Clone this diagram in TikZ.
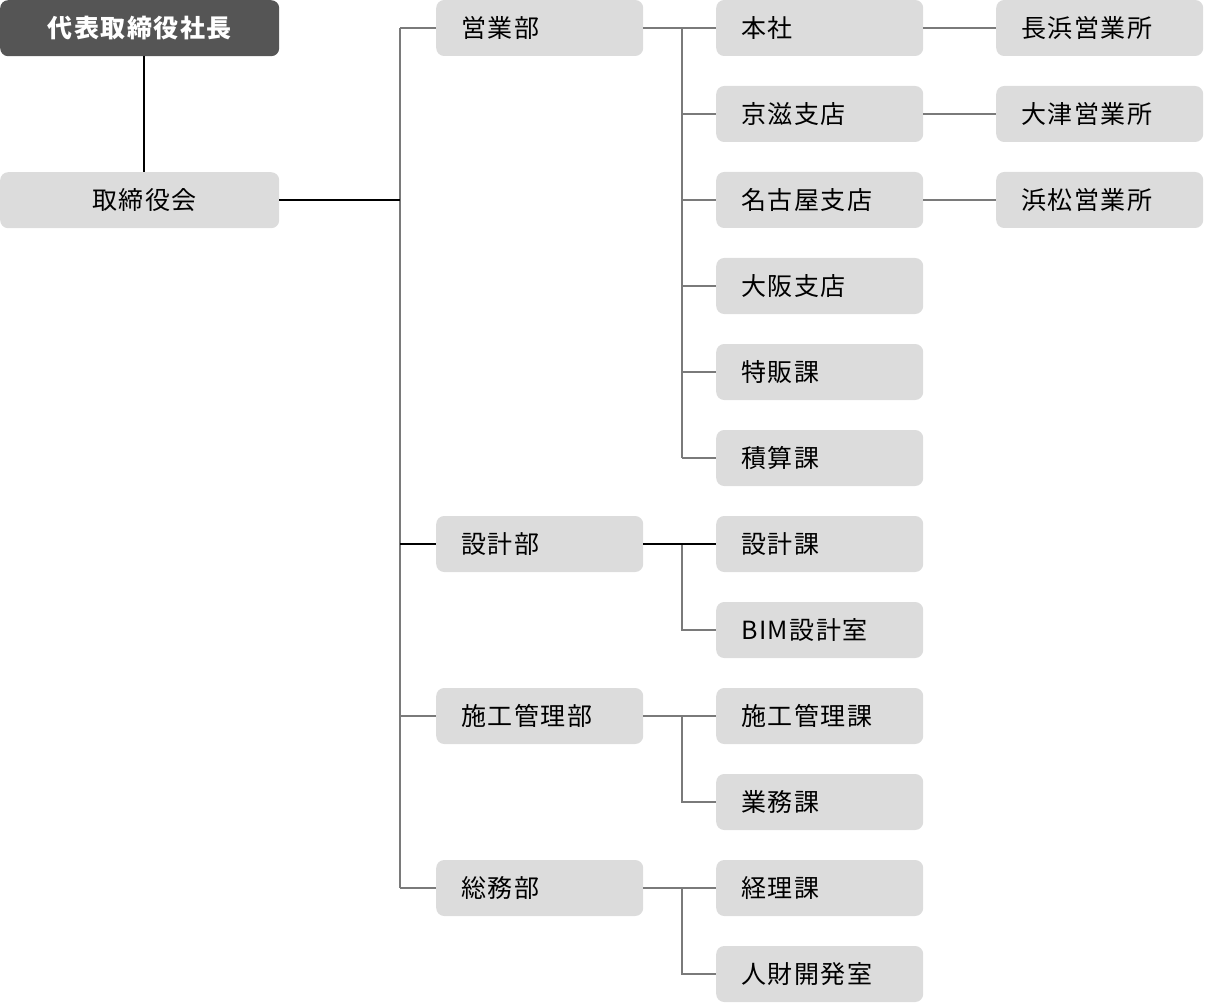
\documentclass[tikz,border=0pt]{standalone}
\usepackage{fontspec}
\setmainfont{Noto Sans CJK JP}[LetterSpace=6]
\begin{document}
\begin{tikzpicture}[x=1pt,y=-1pt,
  every node/.style={font=\fontsize{25}{30}\selectfont},
  boxbase/.style={rectangle, rounded corners=8pt, fill=boxgray, minimum height=56pt, inner ysep=0pt},
  unit/.style={boxbase, anchor=west, inner xsep=25pt, text width=157pt, align=left},
  topbox/.style={boxbase, anchor=north west, minimum width=279pt, inner xsep=0pt},
  blk/.style={draw=black, line width=2pt},
  gry/.style={draw=linegray, line width=2pt}]
\definecolor{boxgray}{HTML}{DCDCDC}
\definecolor{darkbox}{HTML}{555555}
\definecolor{linegray}{HTML}{7A7A7A}
\useasboundingbox (0,0) rectangle (1205,1003);
% top
\node[topbox, fill=darkbox, text=white, font=\fontsize{25}{30}\selectfont\bfseries] (ceo) at (0,0) {代表取締役社長};
\node[topbox] (board) at (0,172) {\hspace*{10pt}取締役会};
% departments
\node[unit] (d1) at (436,28) {営業部};
\node[unit] (d2) at (436,544) {設計部};
\node[unit] (d3) at (436,716) {施工管理部};
\node[unit] (d4) at (436,888) {総務部};
% sections
\node[unit] (s1) at (716,28) {本社};
\node[unit] (s2) at (716,114) {京滋支店};
\node[unit] (s3) at (716,200) {名古屋支店};
\node[unit] (s4) at (716,286) {大阪支店};
\node[unit] (s5) at (716,372) {特販課};
\node[unit] (s6) at (716,458) {積算課};
\node[unit] (s7) at (716,544) {設計課};
\node[unit] (s8) at (716,630) {BIM設計室};
\node[unit] (s9) at (716,716) {施工管理課};
\node[unit] (s10) at (716,802) {業務課};
\node[unit] (s11) at (716,888) {経理課};
\node[unit] (s12) at (716,974) {人財開発室};
% offices
\node[unit] (o1) at (996,28) {長浜営業所};
\node[unit] (o2) at (996,114) {大津営業所};
\node[unit] (o3) at (996,200) {浜松営業所};
% coordinates
\coordinate (cl) at (144,0);
\coordinate (tr) at (400,0);
\coordinate (br) at (682,0);
% trunk (gray)
\draw[gry] (d1.west -| tr) -- (d4.west -| tr);
\foreach \d in {d1,d3,d4} \draw[gry] (\d.west -| tr) -- (\d.west);
% branches
\draw[gry] (d1.east) -- (s1.west);
\draw[gry] (s1.west -| br) -- (s6.west -| br);
\foreach \s in {s2,s3,s4,s5,s6} \draw[gry] (\s.west -| br) -- (\s.west);
\draw[gry] (s7.west -| br) -- (s8.west -| br) -- (s8.west);
\draw[gry] (d3.east) -- (s9.west);
\draw[gry] (s9.west -| br) -- (s10.west -| br) -- (s10.west);
\draw[gry] (d4.east) -- (s11.west);
\draw[gry] (s11.west -| br) -- (s12.west -| br) -- (s12.west);
\draw[gry] (s1.east) -- (o1.west);
\draw[gry] (s2.east) -- (o2.west);
\draw[gry] (s3.east) -- (o3.west);
% black lines
\draw[blk] (ceo.south -| cl) -- (board.north -| cl);
\draw[blk] (board.east) -- (board.east -| tr);
\draw[blk] (d2.west -| tr) -- (d2.west);
\draw[blk] (d2.east) -- (s7.west);
\end{tikzpicture}
\end{document}
